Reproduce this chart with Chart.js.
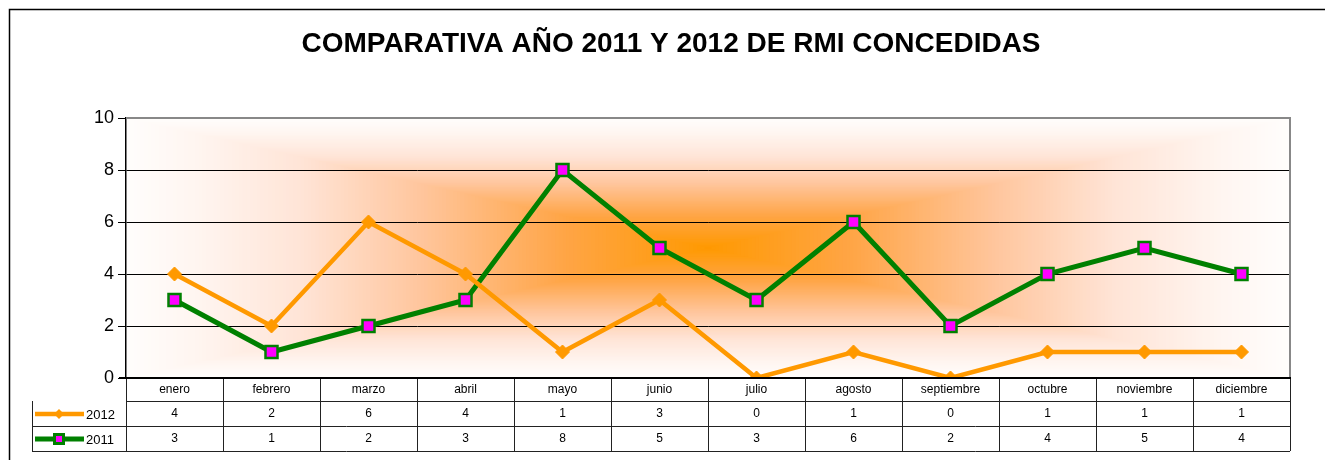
<!DOCTYPE html>
<html>
<head>
<meta charset="utf-8">
<script src="https://cdn.jsdelivr.net/npm/chart.js@4/dist/chart.umd.min.js"></script>
<style>
  body { margin: 0; background: #fff; }
  canvas { display: block; }
</style>
</head>
<body>
<canvas id="myChart" width="1325" height="460"></canvas>
<script>
// datos
const meses = ['enero', 'febrero', 'marzo', 'abril', 'mayo', 'junio', 'julio', 'agosto', 'septiembre', 'octubre', 'noviembre', 'diciembre'];
const datos2012 = [4, 2, 6, 4, 1, 3, 0, 1, 0, 1, 1, 1];
const datos2011 = [3, 1, 2, 3, 8, 5, 3, 6, 2, 4, 5, 4];
const titulo = 'COMPARATIVA AÑO 2011 Y 2012 DE RMI CONCEDIDAS';

const FUENTE = 'Arial, "Liberation Sans", sans-serif';

// colores del degradado rectangular (desde el centro hacia el borde)
const paradas = [
  [0, [255, 153, 0]],
  [0.25, [255, 165, 70]],
  [0.5, [255, 198, 158]],
  [0.7, [255, 228, 214]],
  [0.88, [255, 245, 240]],
  [1, [255, 253, 252]]
];
function colorEn(t) {
  for (let i = 1; i < paradas.length; i++) {
    if (t <= paradas[i][0]) {
      const [t0, c0] = paradas[i - 1];
      const [t1, c1] = paradas[i];
      const f = (t - t0) / (t1 - t0);
      const c = c0.map((v, k) => Math.round(v + (c1[k] - v) * f));
      return 'rgb(' + c.join(',') + ')';
    }
  }
  return 'rgb(255,255,255)';
}

// fondo degradado + marco + titulo
const fondo = {
  id: 'fondo',
  beforeDraw(chart) {
    const ctx = chart.ctx;
    const a = chart.chartArea;
    ctx.save();
    ctx.strokeStyle = '#000';
    ctx.lineWidth = 1.5;
    ctx.beginPath();
    ctx.moveTo(9.5, 470);
    ctx.lineTo(9.5, 9.5);
    ctx.lineTo(1330, 9.5);
    ctx.stroke();

    // degradado "desde el centro" tipo excel (rectangular)
    const cx = (a.left + a.right) / 2, cy = (a.top + a.bottom) / 2;
    const hw = (a.right - a.left) / 2, hh = (a.bottom - a.top) / 2;
    const pasos = 160;
    for (let i = pasos; i >= 1; i--) {
      const t = i / pasos;
      ctx.fillStyle = colorEn(t);
      ctx.fillRect(cx - hw * t, cy - hh * t, 2 * hw * t, 2 * hh * t);
    }
    ctx.restore();

    ctx.save();
    ctx.fillStyle = '#000';
    ctx.font = 'bold 28px ' + FUENTE;
    ctx.textAlign = 'center';
    ctx.textBaseline = 'middle';
    ctx.fillText(titulo, 671, 44);
    ctx.restore();
  },
  afterDraw(chart) {
    const ctx = chart.ctx;
    const a = chart.chartArea;
    const x = chart.scales.x;
    const ancho = (a.right - a.left) / meses.length;
    const filas = [378, 401, 426, 451];
    ctx.save();
    ctx.strokeStyle = '#888';
    ctx.lineWidth = 2;
    ctx.beginPath();
    ctx.moveTo(a.left, a.top);
    ctx.lineTo(a.right, a.top);
    ctx.lineTo(a.right, a.bottom);
    ctx.stroke();

    // tabla de datos
    ctx.strokeStyle = '#222';
    ctx.lineWidth = 1;
    ctx.beginPath();
    for (let i = 1; i < filas.length; i++) {
      const xi = i === 1 ? a.left : 32;
      ctx.moveTo(xi, filas[i] + 0.5);
      ctx.lineTo(a.right, filas[i] + 0.5);
    }
    for (let i = 0; i <= meses.length; i++) {
      const xv = Math.round(a.left + i * ancho) + 0.5;
      ctx.moveTo(xv, filas[0]);
      ctx.lineTo(xv, filas[3]);
    }
    ctx.moveTo(32.5, filas[1]);
    ctx.lineTo(32.5, filas[3]);
    ctx.stroke();

    ctx.strokeStyle = '#000';
    ctx.lineWidth = 2;
    ctx.beginPath();
    ctx.moveTo(a.left - 7, a.bottom);
    ctx.lineTo(a.right + 1, a.bottom);
    ctx.stroke();

    ctx.fillStyle = '#000';
    ctx.font = '12px ' + FUENTE;
    ctx.textAlign = 'center';
    ctx.textBaseline = 'middle';
    meses.forEach((m, i) => {
      const px = x.getPixelForValue(i);
      ctx.fillText(m, px, 390);
      ctx.fillText(String(datos2012[i]), px, 414);
      ctx.fillText(String(datos2011[i]), px, 439);
    });

    // leyenda en la tabla
    const series = chart.data.datasets;
    const ys = [414, 439];
    series.forEach((ds, k) => {
      const y = ys[k];
      ctx.strokeStyle = ds.borderColor;
      ctx.lineWidth = ds.borderWidth;
      ctx.beginPath();
      ctx.moveTo(35, y);
      ctx.lineTo(84, y);
      ctx.stroke();
      if (k === 0) {
        ctx.fillStyle = ds.borderColor;
        ctx.beginPath();
        ctx.moveTo(59, y - 5); ctx.lineTo(64, y); ctx.lineTo(59, y + 5); ctx.lineTo(54, y);
        ctx.closePath();
        ctx.fill();
      } else {
        ctx.fillStyle = ds.pointBorderColor;
        ctx.fillRect(53, y - 6, 12, 12);
        ctx.fillStyle = ds.pointBackgroundColor;
        ctx.fillRect(56, y - 3, 6, 6);
      }
      ctx.fillStyle = '#000';
      ctx.textAlign = 'left';
      ctx.font = '13px ' + FUENTE;
      ctx.fillText(ds.label, 86, y + 1);
    });
    ctx.restore();
  }
};

new Chart(document.getElementById('myChart'), {
  type: 'line',
  data: {
    labels: meses,
    datasets: [{
      label: '2012',
      data: datos2012,
      borderColor: '#ff9900',
      backgroundColor: '#ff9900',
      borderWidth: 4.5,
      pointStyle: 'rectRot',
      pointRadius: 7,
      pointBackgroundColor: '#ff9900',
      pointBorderColor: '#ff9900',
      pointBorderWidth: 1,
      tension: 0
    }, {
      label: '2011',
      data: datos2011,
      borderColor: '#008000',
      backgroundColor: '#008000',
      borderWidth: 5,
      pointStyle: 'rect',
      pointRadius: 8.5,
      pointBackgroundColor: '#ff00ff',
      pointBorderColor: '#008000',
      pointBorderWidth: 2.5,
      tension: 0
    }]
  },
  options: {
    responsive: false,
    animation: false,
    layout: { padding: { left: 0, right: 35, top: 118, bottom: 82 } },
    plugins: {
      legend: { display: false },
      title: { display: false },
      tooltip: { enabled: false }
    },
    scales: {
      x: {
        display: false,
        offset: true
      },
      y: {
        min: 0,
        max: 10,
        afterFit(scale) { scale.width = 126; },
        ticks: {
          stepSize: 2,
          color: '#000',
          padding: 4,
          font: { size: 18, family: FUENTE }
        },
        grid: {
          color: (c) => (c.tick && c.tick.value === 10) ? 'rgba(0,0,0,0)' : '#000',
          lineWidth: 1,
          tickLength: 8,
          tickColor: '#000'
        },
        border: { color: '#000', width: 1.5 }
      }
    }
  },
  plugins: [fondo]
});
</script>
</body>
</html>
